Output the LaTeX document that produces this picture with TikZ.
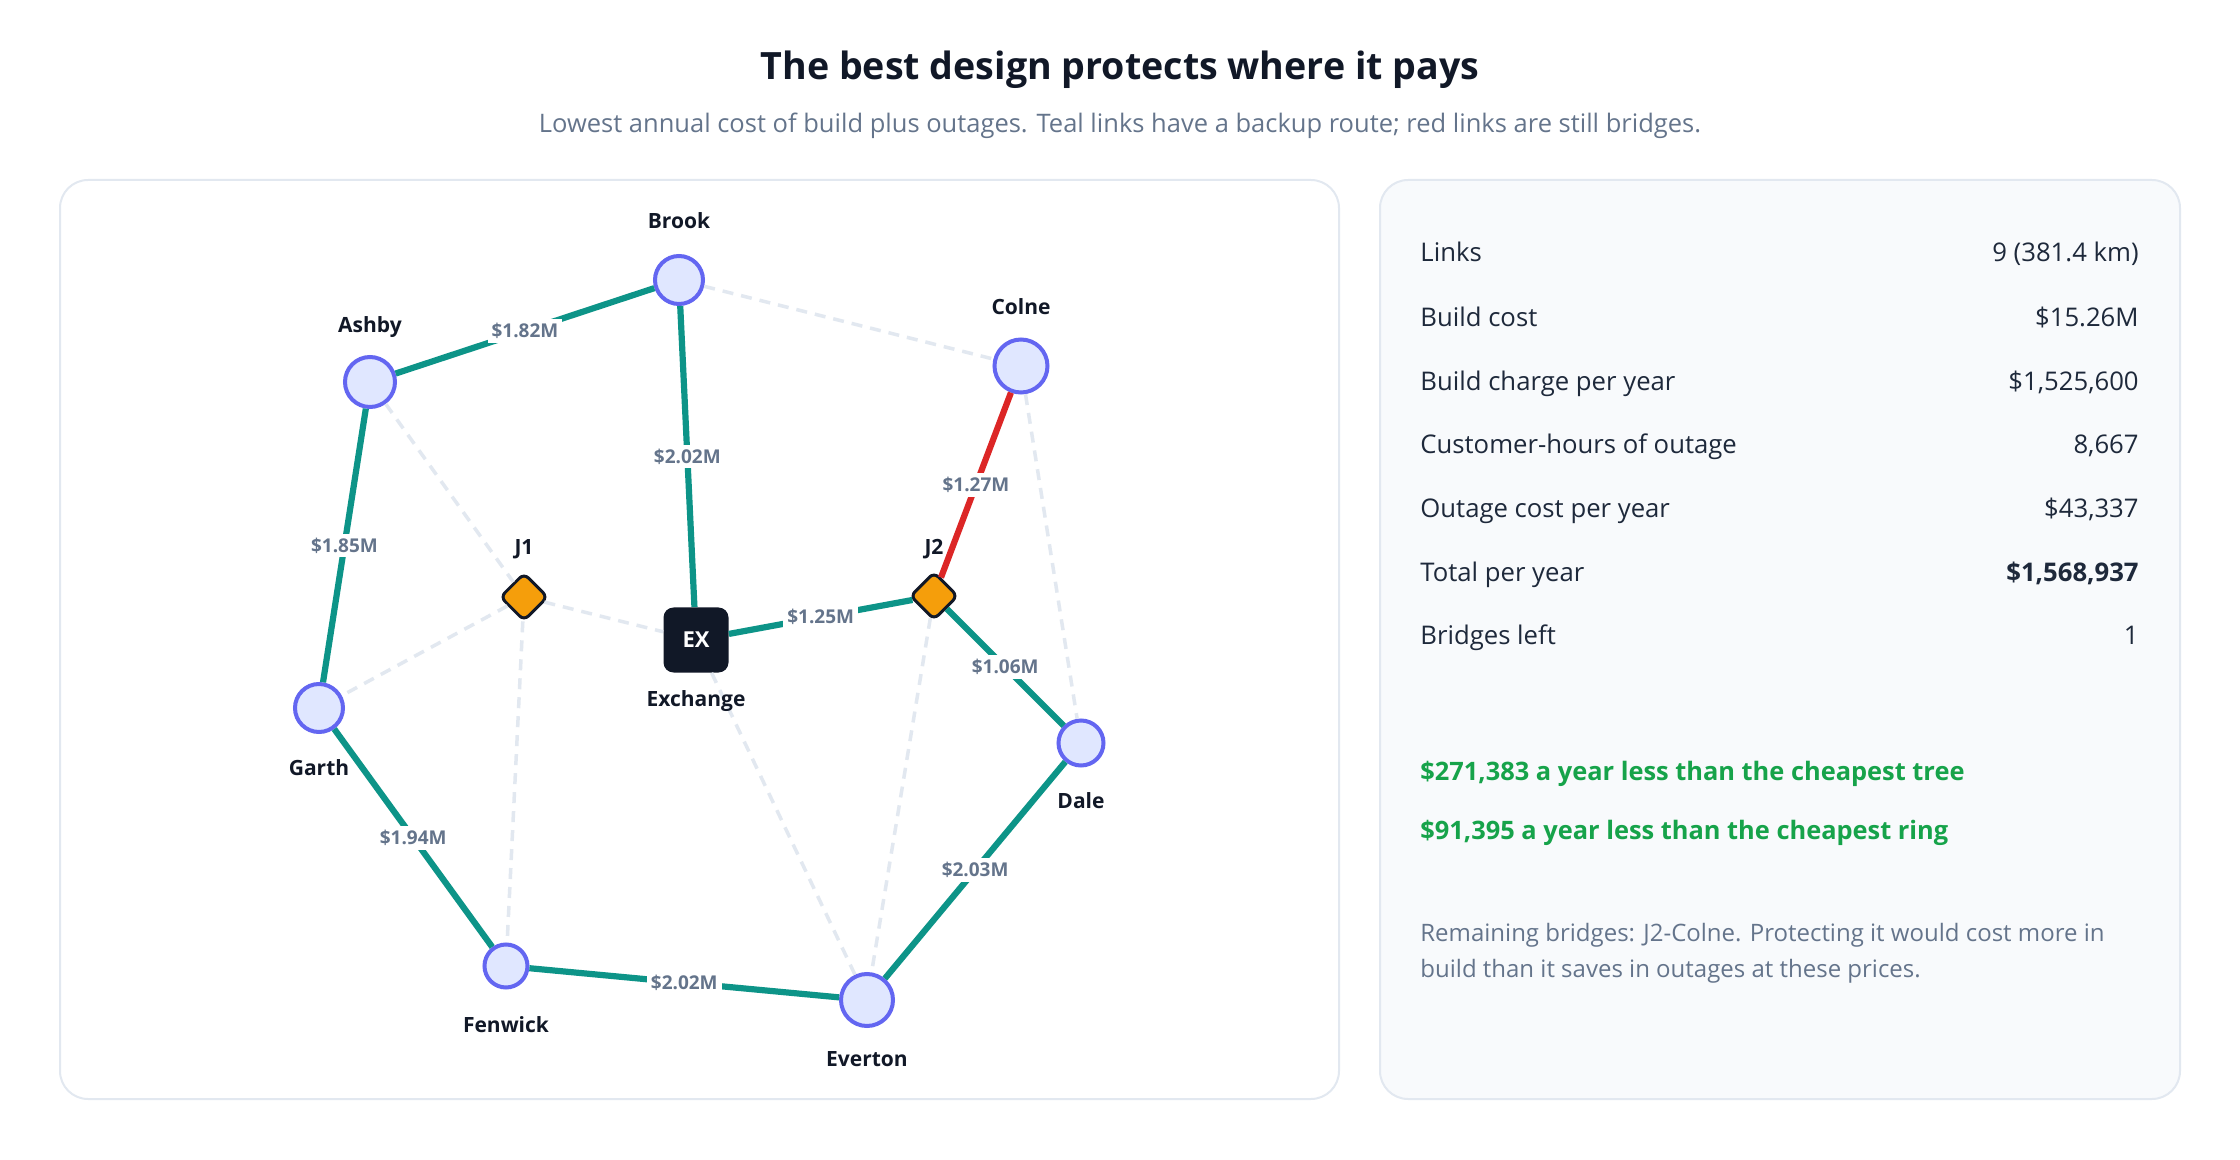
\documentclass[tikz,border=0pt]{standalone}
\usepackage{fontspec}
\setmainfont{Open Sans}
\usepackage{tikz}
\usetikzlibrary{shapes.geometric}

\definecolor{ink}{HTML}{111827}
\definecolor{rowink}{HTML}{1E293B}
\definecolor{muted}{HTML}{64748B}
\definecolor{townfill}{HTML}{E0E7FF}
\definecolor{townline}{HTML}{6366F1}
\definecolor{jointfill}{HTML}{F59E0B}
\definecolor{linkteal}{HTML}{0D9488}
\definecolor{linkred}{HTML}{DC2626}
\definecolor{spareline}{HTML}{E2E8F0}
\definecolor{panelline}{HTML}{E2E8F0}
\definecolor{panelfill}{HTML}{F8FAFC}
\definecolor{savegreen}{HTML}{16A34A}

\begin{document}
\begin{tikzpicture}[x=0.5pt, y=-0.5pt,
    town/.style={circle, draw=townline, fill=townfill, line width=2pt, inner sep=0pt},
    joint/.style={diamond, draw=ink, fill=jointfill, line width=1.5pt, minimum size=24pt, inner sep=0pt, rounded corners=3pt},
    hub/.style={rectangle, fill=ink, rounded corners=5pt, minimum size=32.5pt, inner sep=0pt, text=white, font=\fontsize{11}{13}\selectfont\bfseries},
    lab/.style={font=\fontsize{10.5}{12}\selectfont\bfseries, text=ink, inner sep=0pt, text height=8pt, text depth=2pt},
    link/.style={line width=3.1pt, draw=linkteal},
    bridge/.style={line width=3.1pt, draw=linkred},
    spare/.style={line width=1.75pt, draw=spareline, dash pattern=on 5.5pt off 4pt},
    cost/.style={fill=white, inner sep=2pt, text=muted, font=\fontsize{9.5}{11}\selectfont\bfseries},
    panel/.style={draw=panelline, line width=1pt, rounded corners=14pt},
    row/.style={font=\fontsize{12.85}{15}\selectfont, text=rowink, inner sep=0pt, text height=9pt, text depth=2.5pt},
    saving/.style={font=\fontsize{12.7}{15}\selectfont\bfseries, text=savegreen, inner sep=0pt, text height=9pt, text depth=2.5pt},
    note/.style={font=\fontsize{12}{14}\selectfont, text=muted, inner sep=0pt, text height=8.5pt, text depth=2.5pt}]

    \def\towns{brook/Brook/679/280/24/223, ashby/Ashby/370/382/25/327, colne/Colne/1021/366/26.5/309,
        garth/Garth/319/708/24/769, dale/Dale/1081/743/22.5/802, fenwick/Fenwick/506/966/21.5/1026, everton/Everton/867/1000/26/1060}

    \useasboundingbox (0,0) rectangle (2240,1160);

    \draw[panel, fill=white] (60,180) rectangle (1339,1099);
    \draw[panel, fill=panelfill] (1380,180) rectangle (2180,1099);

    \node[font=\fontsize{18.8}{22}\selectfont\bfseries, text=ink] (title) at (1120,70) {The best design protects where it pays};
    \node[font=\fontsize{12.75}{15}\selectfont, text=muted] (subtitle) at (1120,126) {Lowest annual cost of build plus outages. Teal links have a backup route; red links are still bridges.};

    \foreach \n/\t/\x/\y/\s/\ly in \towns
        \node[town, minimum size=\s pt] (\n) at (\x,\y) {};

    \node[joint] (j1) at (524,597) {};
    \node[joint] (j2) at (934,596) {};
    \node[hub] (ex) at (696,640) {EX};

    \foreach \a/\b in {brook/colne, ashby/j1, j1/ex, j1/garth, j1/fenwick, colne/dale, ex/everton, j2/everton}
        \draw[spare] (\a) -- (\b);

    \foreach \a/\b/\c in {ashby/brook/1.82, brook/ex/2.02, ashby/garth/1.85, ex/j2/1.25, j2/dale/1.06,
        garth/fenwick/1.94, fenwick/everton/2.02, everton/dale/2.03}
        \draw[link] (\a) -- node[cost] {\$\c M} (\b);
    \draw[bridge] (j2) -- node[cost] {\$1.27M} (colne);

    \foreach \n/\t/\x/\y/\s/\ly in \towns
        \node[lab] (\n-lab) at (\x,\ly) {\t};
    \node[lab] (j1-lab) at (524,549) {J1};
    \node[lab] (j2-lab) at (934,549) {J2};
    \node[lab] (ex-lab) at (696,700) {Exchange};

    \foreach \k/\v/\y in {Links/9 (381.4 km)/255, Build cost/\$15.26M/320, Build charge per year/{\$1,525,600}/384,
        Customer-hours of outage/{8,667}/447, Outage cost per year/{\$43,337}/511,
        Total per year/{\textbf{\$1,568,937}}/575, Bridges left/1/638} {
        \node[row, anchor=west] (key\y) at (1420,\y) {\k};
        \node[row, anchor=east] (val\y) at (2139,\y) {\v};
    }

    \node[saving, anchor=west] (tree) at (1420,774) {\$271,383 a year less than the cheapest tree};
    \node[saving, anchor=west] (ring) at (1420,833) {\$91,395 a year less than the cheapest ring};

    \node[note, anchor=west] (note1) at (1420,935) {Remaining bridges: J2-Colne. Protecting it would cost more in};
    \node[note, anchor=west] (note2) at (1420,971) {build than it saves in outages at these prices.};
\end{tikzpicture}
\end{document}
